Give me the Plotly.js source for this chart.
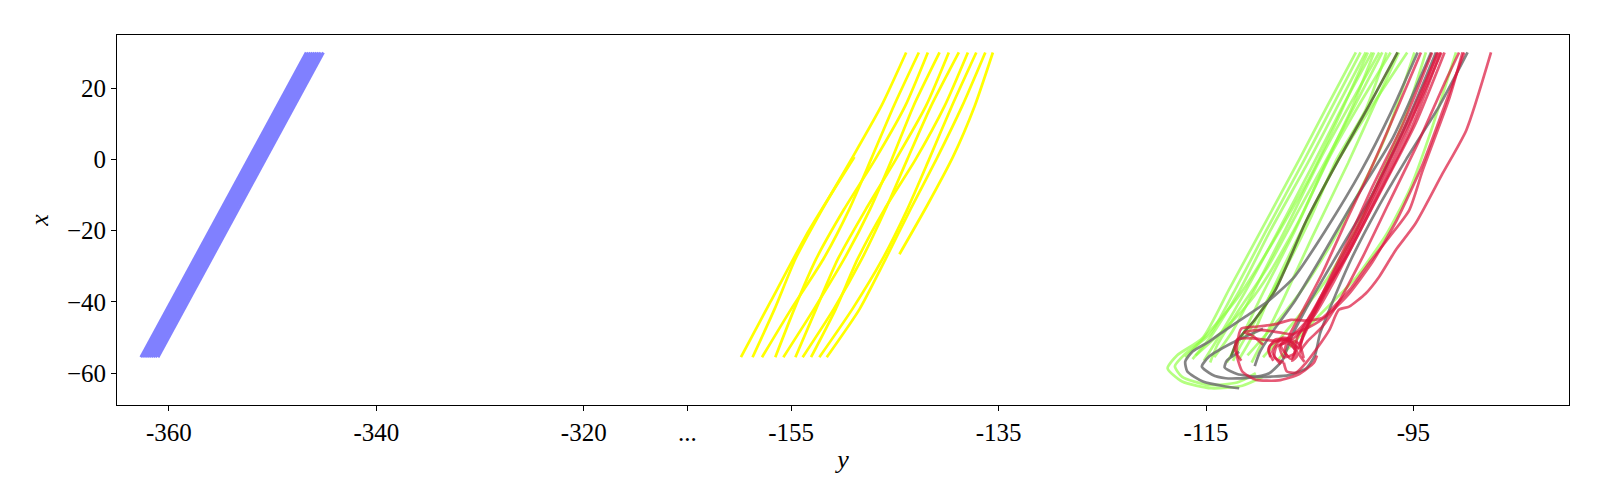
<!DOCTYPE html>
<html><head><meta charset="utf-8">
<script src="https://cdn.plot.ly/plotly-3.0.1.min.js"></script>
<style>html,body{margin:0;padding:0;background:#fff}#chart{width:1600px;height:500px}</style>
</head><body><div id="chart"></div>
<script>
// broken horizontal axis: values right of the break are shifted by breakShift
const breakShift = 145;
const tickVals = [-360, -340, -320, -310, -300, -280, -260, -240];
const tickText = ['-360', '-340', '-320', '...', '-155', '-135', '-115', '-95'];
const yTickVals = [-60, -40, -20, 0, 20];

// blue band: vertical levels (x) and horizontal values (y) per line
const blueLevels = [-55.5, -40, -20, 0, 20, 30];
const blueY = [
  [-362.7, -359.8, -356.1, -352.35, -348.6, -346.75],
  [-362.5, -359.6, -355.9, -352.15, -348.4, -346.55],
  [-362.3, -359.4, -355.7, -351.95, -348.2, -346.35],
  [-362.1, -359.2, -355.5, -351.75, -348.0, -346.15],
  [-361.9, -359.0, -355.3, -351.55, -347.8, -345.95],
  [-361.7, -358.8, -355.1, -351.35, -347.6, -345.75],
  [-361.5, -358.6, -354.9, -351.15, -347.4, -345.55],
  [-361.3, -358.4, -354.7, -350.95, -347.2, -345.35],
  [-361.05, -358.15, -354.45, -350.7, -346.95, -345.1]
];

// yellow lines
const yellowLevels = [-55.5, -42, -28, -14, 0, 15, 30];
const yellowY = [
  [-158.72, -156.6, -154.6, -152.0, -149.2, -146.3, -143.91],
  [-157.81, -155.0, -151.9, -149.4, -147.3, -145.1, -142.69],
  [-156.53, -154.7, -152.6, -149.9, -146.9, -144.0, -141.82],
  [-155.75, -152.8, -149.9, -147.4, -145.3, -143.2, -140.69],
  [-154.59, -152.6, -150.5, -147.8, -144.9, -142.0, -139.80],
  [-153.89, -150.9, -148.2, -145.9, -143.8, -141.5, -138.83],
  [-153.08, -150.7, -148.6, -146.0, -143.0, -140.2, -137.96],
  [-152.28, -149.1, -146.2, -143.8, -141.7, -139.5, -137.15],
  [-151.57, -148.4, -145.9, -143.5, -141.0, -138.5, -136.28]
];
const yellowShortX = [[-55.5, -40, -20, 0.7], [-26.6, -13, 0.7, 15, 30]];
const yellowShortY = [[-159.84, -157.0, -153.3, -148.9], [-144.56, -141.9, -139.4, -137.3, -135.55]];

// right cluster paths as [y, x] pairs
const greenPaths = [
  [[-109.5,-61.0],[-111.5,-63.5],[-114.5,-64.2],[-117.3,-62.3],[-118.7,-58.6],[-117.8,-55],[-115.3,-50.0],[-112.8,-36.6],[-109.7,-20],[-106.0,0],[-103.3,15],[-100.55,30]],
  [[-110.2,-60.0],[-112.0,-62.6],[-114.8,-63.3],[-117.3,-61.0],[-118.0,-58.0],[-117.0,-54.5],[-114.6,-49.0],[-112.2,-36.6],[-109.2,-20],[-105.5,0],[-102.8,15],[-100.1,30]],
  [[-116.3,-56.0],[-114.6,-50],[-111.8,-37],[-108.8,-20],[-105.0,0],[-102.3,15],[-99.6,30]],
  [[-115.2,-56.5],[-113.6,-49],[-111.2,-37],[-108.2,-21],[-104.6,-1],[-101.8,15],[-99.0,30]],
  [[-114.2,-55.5],[-112.4,-48],[-110.4,-37],[-107.4,-20],[-104.0,0],[-101.2,15],[-98.3,30]],
  [[-113.0,-57.0],[-111.6,-50],[-109.6,-38],[-106.6,-21],[-103.2,0],[-100.3,15],[-97.2,30]],
  [[-111.8,-56.0],[-110.6,-50],[-108.8,-38],[-105.8,-20],[-102.2,0],[-99.0,15],[-95.6,30]],
  [[-110.6,-57.0],[-109.2,-49],[-107.5,-39],[-104.8,-22],[-101.3,-1],[-98.8,15],[-96.4,30]],
  [[-108.0,-56],[-104.5,-45],[-100.5,-33],[-97.6,-21],[-95.3,-8],[-93.3,8],[-90.9,30]],
  [[-117.0,-55.5],[-115.5,-51],[-112.0,-39],[-108.5,-23],[-104.8,-4],[-102.5,10],[-99.4,30]],
  [[-112.4,-56.5],[-111.8,-53],[-110.0,-44],[-107.6,-32],[-105.0,-17],[-102.4,0],[-99.6,14],[-97.6,30]],
  [[-109.5,-55.5],[-107.8,-50],[-105.8,-43],[-103.2,-33],[-100.6,-20],[-98.2,-5],[-95.8,12],[-93.8,30]],
  [[-116.0,-55.0],[-113.0,-47],[-110.8,-40],[-108.9,-32],[-106.0,-17],[-103.6,-2],[-101.0,14],[-98.8,30]],
  [[-114.6,-57.0],[-113.9,-52],[-112.0,-43],[-109.0,-30],[-106.2,-15],[-103.0,2],[-100.5,16],[-98.0,30]],
  [[-111.0,-55.0],[-108.0,-45],[-105.6,-36],[-103.0,-24],[-100.2,-9],[-97.6,7],[-94.9,30]]
];
const olivePaths = [
  [[-112.6,-55.5],[-112.0,-51],[-110.3,-45],[-108.3,-36.6],[-105.3,-17],[-102.2,0],[-99.3,15],[-96.53,30]]
];
const grayPaths = [
  [[-111.8,-64.2],[-113.1,-63.7],[-115.3,-62.3],[-116.8,-59.5],[-117.0,-56.7],[-116.3,-53.9],[-114.7,-51.1],[-113.1,-47.8],[-111.2,-44.1],[-108.9,-39.5],[-106.5,-33],[-103.5,-20],[-100.0,-3],[-97.2,13],[-94.6,30]],
  [[-109.5,-47.5],[-112.5,-51.5],[-114.7,-55.3],[-115.4,-58.1],[-114.4,-60.4],[-113.1,-61.4],[-111.0,-61.3],[-108.9,-60.0],[-107.6,-56.2],[-106.8,-50],[-105.0,-40],[-102.0,-25],[-99.0,-10],[-96.0,8],[-92.83,30]],
  [[-111.8,-54],[-113.0,-56.5],[-113.2,-58.4],[-112.0,-60.2],[-110.0,-61.0],[-107.0,-60.5],[-105.3,-58.5],[-104.5,-55],[-104.0,-48.8],[-102.8,-40],[-101.0,-28],[-98.5,-14],[-95.7,0],[-92.5,15],[-89.78,30]],
  [[-110.3,-58],[-109.8,-54],[-108.5,-48],[-106.5,-40],[-104.0,-28],[-101.0,-13],[-97.0,6],[-93.3,30]]
];
const redPaths = [
  [[-87.52,30],[-89.9,8.2],[-92.2,-4],[-94.8,-18],[-96.7,-25.4],[-97.3,-28.2],[-98.3,-32.9],[-99.6,-37.6],[-101.2,-41.3],[-102.2,-42.2],[-103.1,-47.8],[-104.4,-53.4],[-105.4,-57.2],[-106.3,-59.8],[-107.2,-59.5],[-107.5,-57]],
  [[-90.26,30],[-91.5,17.5],[-94.1,-3],[-95.4,-14.2],[-97.3,-21.7],[-99.3,-29.2],[-101.0,-36],[-102.4,-40.5],[-103.8,-44.5],[-105.5,-45.2],[-106.8,-45.0],[-108.4,-46.3],[-110.4,-47.0],[-111.6,-47.5],[-112.0,-52],[-112.0,-55.3],[-111.5,-59.5],[-110.2,-61.8],[-108.0,-62.0],[-106.0,-60.2],[-104.6,-57.0],[-104.3,-55.0]],
  [[-107.5,-57.0],[-108.4,-55.5],[-108.2,-52.5],[-107.2,-51.5],[-106.4,-53.5],[-106.8,-56],[-107.4,-54],[-106.9,-49],[-105.6,-42],[-103.8,-32],[-101.6,-18],[-99.0,-2],[-96.6,14],[-94.28,30]],
  [[-108.8,-55.5],[-108.9,-52.5],[-107.8,-50.5],[-106.6,-51.5],[-106.2,-55.0],[-106.7,-56.5],[-106.0,-52],[-105.0,-45],[-103.5,-36],[-101.5,-24],[-99.0,-8],[-96.0,10],[-93.2,30]],
  [[-107.8,-57.5],[-108.6,-54],[-107.6,-50.0],[-106.0,-51.8],[-105.6,-55.5],[-105.9,-52],[-105.0,-46],[-103.6,-38],[-101.5,-27],[-98.8,-11],[-95.6,8],[-92.7,30]],
  [[-109.5,-52.0],[-110.5,-49.5],[-111.3,-48.5],[-109.8,-47.8],[-107.8,-48.6],[-106.6,-49.0],[-105.2,-45],[-103.5,-37],[-101.2,-26],[-98.4,-10],[-95.3,8],[-92.4,30]],
  [[-111.6,-56.5],[-112.2,-53.5],[-112.0,-50.5],[-110.5,-50.2],[-108.0,-51],[-106.5,-50],[-104.6,-44],[-102.8,-35],[-100.5,-22],[-97.8,-7],[-94.8,10],[-92.0,30]],
  [[-105.5,-56.8],[-106.0,-54.5],[-105.2,-51.0],[-103.8,-47],[-102.2,-40],[-100.0,-28],[-97.5,-13],[-94.5,5],[-91.9,22],[-90.6,30]],
  [[-107.2,-55],[-107.8,-52],[-106.5,-49],[-105.0,-47],[-103.4,-44],[-101.3,-38],[-99.0,-29],[-96.6,-17],[-94.2,-2],[-92.0,15],[-90.1,30]],
  [[-106.3,-54],[-107.0,-51],[-107.9,-52.5],[-107.5,-55.5],[-106.5,-54.5],[-106.2,-50],[-104.8,-43],[-102.9,-33],[-100.6,-20],[-98.0,-4],[-95.2,13],[-92.6,30]],
  [[-108.5,-56.5],[-109.0,-53.5],[-108.3,-50.5],[-107.0,-50.6],[-106.0,-53],[-105.6,-49],[-104.2,-41],[-102.2,-30],[-99.8,-16],[-97.2,0],[-94.6,15],[-92.3,30]]
];

function pos(v) { return v > -200 ? v - breakShift : v; }

const traces = [];
function addLine(ys, xs, color, width, shape) {
  traces.push({
    type: 'scatter', mode: 'lines',
    x: ys.map(pos), y: xs,
    line: {color: color, width: width, shape: shape || 'spline', smoothing: 0.6},
    hoverinfo: 'skip', showlegend: false
  });
}
blueY.forEach(function (row) { addLine(row, blueLevels, '#8080ff', 3, 'linear'); });
yellowY.forEach(function (row) { addLine(row, yellowLevels, '#ffff00', 2.7); });
yellowShortY.forEach(function (row, i) { addLine(row, yellowShortX[i], '#ffff00', 2.7); });
function addPaths(paths, color) {
  paths.forEach(function (p) {
    addLine(p.map(function (q) { return q[0]; }), p.map(function (q) { return q[1]; }), color, 2.7);
  });
}
addPaths(greenPaths, 'rgba(140,255,60,0.65)');
addPaths(olivePaths, 'rgba(85,107,47,0.9)');
addPaths(grayPaths, 'rgba(110,110,110,0.85)');
addPaths(redPaths, 'rgba(220,20,60,0.7)');

const serif = 'Liberation Serif, DejaVu Serif, serif';
const layout = {
  width: 1600, height: 500,
  margin: {l: 117, r: 31, t: 35, b: 95},
  paper_bgcolor: '#fff', plot_bgcolor: '#fff',
  font: {family: serif, size: 25, color: '#000'},
  xaxis: {
    range: [-365, -225], tickvals: tickVals, ticktext: tickText,
    ticks: 'outside', ticklen: 5, tickwidth: 1, tickcolor: '#000',
    showline: true, mirror: true, linecolor: '#000', linewidth: 1,
    showgrid: false, zeroline: false,
    tickfont: {family: serif, size: 25},
    title: {text: '<i>y</i>', font: {family: serif, size: 26}, standoff: 4}
  },
  yaxis: {
    range: [-68.9, 34.9], tickvals: yTickVals,
    ticks: 'outside', ticklen: 5, tickwidth: 1, tickcolor: '#000',
    showline: true, mirror: true, linecolor: '#000', linewidth: 1,
    showgrid: false, zeroline: false,
    tickfont: {family: serif, size: 25},
    title: {text: '<i>x</i>', font: {family: serif, size: 26}, standoff: 10}
  }
};
Plotly.newPlot('chart', traces, layout, {staticPlot: true, displayModeBar: false});
</script>
</body></html>
